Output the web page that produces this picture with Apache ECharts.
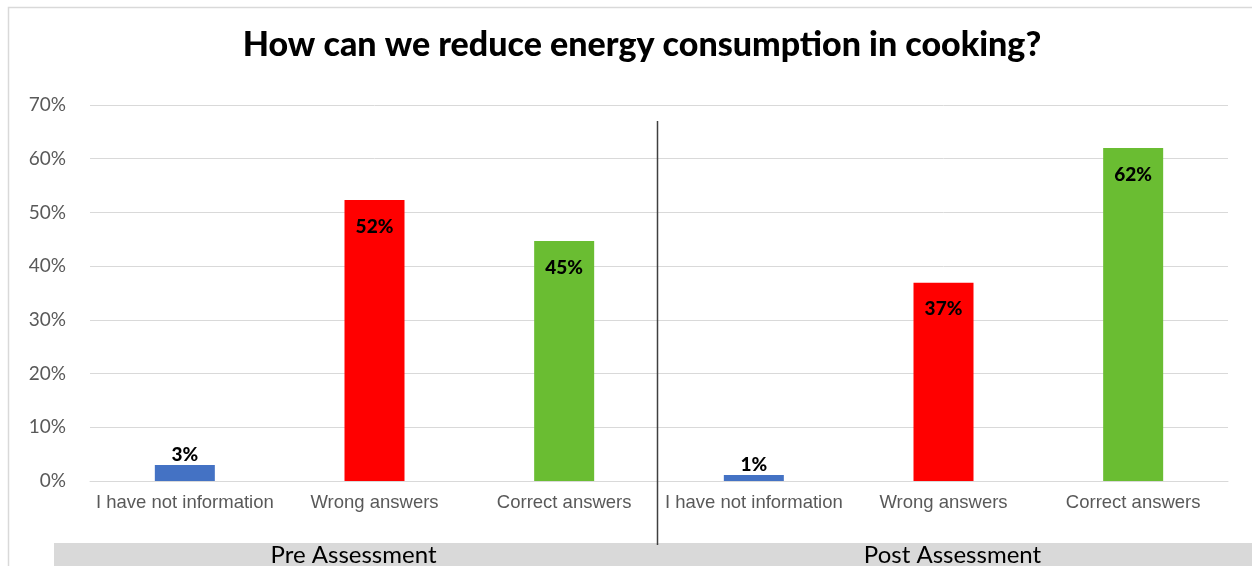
<!DOCTYPE html>
<html>
<head>
<meta charset="utf-8">
<script src="https://cdn.jsdelivr.net/npm/echarts@6/dist/echarts.min.js"></script>
<style>html,body{margin:0;padding:0;background:#fff;}#main{width:1252px;height:566px;}</style>
</head>
<body>
<div id="main"></div>
<script>
const titleText = 'How can we reduce energy consumption in cooking?';
const categories = ['I have not information', 'Wrong answers', 'Correct answers', 'I have not information', 'Wrong answers', 'Correct answers'];
const values = [3.0, 52.3, 44.7, 1.1, 36.9, 62.0];
const groupLabels = ['Pre Assessment', 'Post Assessment'];
const yTicks = [0, 10, 20, 30, 40, 50, 60, 70];
const barColors = ['#4472c4', '#ff0000', '#6abd32', '#4472c4', '#ff0000', '#6abd32'];

const chart = echarts.init(document.getElementById('main'), null, {renderer: 'canvas'});

const barData = values.map((v, i) => ({
  value: v,
  itemStyle: {color: barColors[i]},
  label: v < 10 ? {position: 'top', distance: 1} : {position: 'insideTop', distance: 17}
}));

chart.setOption({
  animation: false,
  title: {
    text: titleText,
    left: 637,
    textAlign: 'center',
    top: 23,
    textStyle: {fontFamily: 'Lato', fontWeight: 900, fontSize: 34, color: '#000'}
  },
  grid: [
    {left: 90, right: 24, top: 105, bottom: 85},
    {left: 54, right: 0, top: 543, height: 30, show: true, backgroundColor: '#d9d9d9', borderWidth: 0}
  ],
  xAxis: [
    {
      type: 'category', gridIndex: 0, data: categories,
      axisLine: {lineStyle: {color: '#d9d9d9', width: 1}},
      axisTick: {show: false},
      axisLabel: {color: '#595959', fontFamily: 'Liberation Sans', fontSize: 18.5, margin: 12, interval: 0}
    },
    {
      type: 'category', gridIndex: 1, data: groupLabels, position: 'top',
      axisLine: {show: false}, axisTick: {show: false},
      axisLabel: {inside: true, margin: 0, color: '#000', fontFamily: 'Lato', fontSize: 24, interval: 0}
    }
  ],
  yAxis: [
    {
      type: 'value', gridIndex: 0, min: yTicks[0], max: yTicks[yTicks.length - 1], interval: 10,
      axisLine: {show: false}, axisTick: {show: false},
      splitLine: {lineStyle: {color: '#d9d9d9', width: 1}},
      axisLabel: {formatter: '{value}%', color: '#595959', fontFamily: 'Lato', fontSize: 19, margin: 24}
    },
    {type: 'value', gridIndex: 1, show: false}
  ],
  series: [{
    type: 'bar', xAxisIndex: 0, yAxisIndex: 0,
    data: barData,
    barWidth: 60,
    label: {
      show: true,
      formatter: p => Math.round(p.value) + '%',
      color: '#000', fontFamily: 'Lato', fontWeight: 900, fontSize: 19
    }
  }]
});

const xa = chart.convertToPixel({xAxisIndex: 0}, 2);
const xb = chart.convertToPixel({xAxisIndex: 0}, 3);
const sepX = Math.round((xa + xb) / 2) - 2 + 0.5;
const topY = chart.convertToPixel({yAxisIndex: 0}, 67);
chart.setOption({
  graphic: [
    {type: 'rect', z: 100, silent: true, shape: {x: 8.5, y: 7.5, width: 1400, height: 700},
     style: {fill: 'none', stroke: '#d9d9d9', lineWidth: 1.5}},
    {type: 'line', z: 100, silent: true, shape: {x1: sepX, y1: Math.round(topY), x2: sepX, y2: 545},
     style: {stroke: '#404040', lineWidth: 1.5}}
  ]
});
</script>
</body>
</html>
